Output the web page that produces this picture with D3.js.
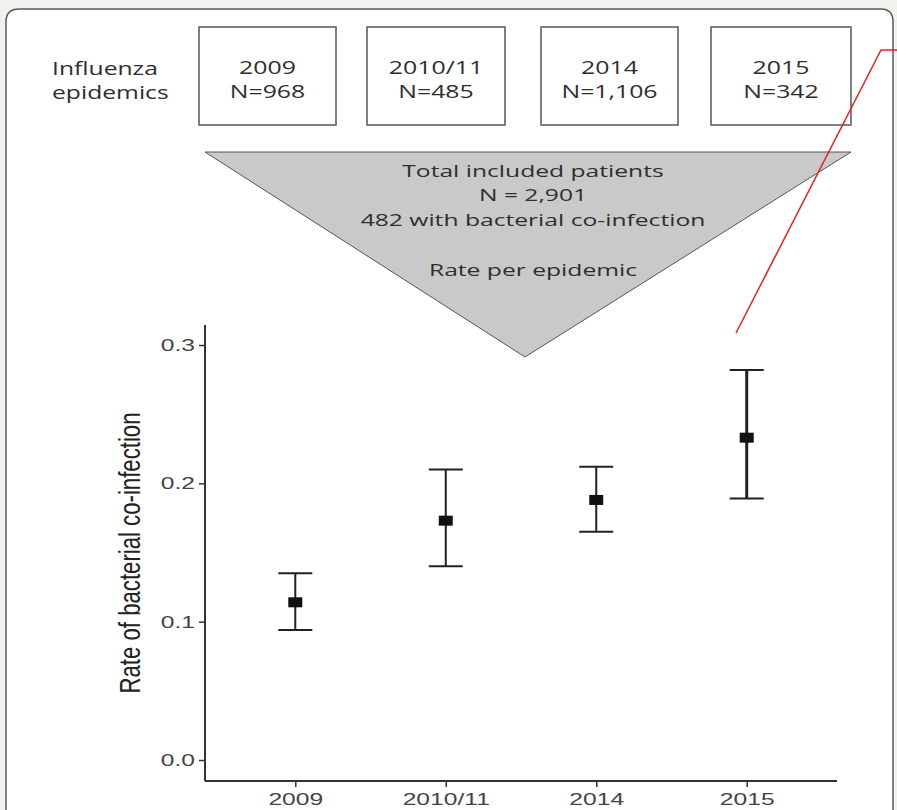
<!DOCTYPE html>
<html>
<head>
<meta charset="utf-8">
<script src="https://cdn.jsdelivr.net/npm/d3@7"></script>
<style>
  html, body { margin: 0; padding: 0; background: #f3f1ee; }
  svg { display: block; }
</style>
</head>
<body>
<div id="chart"></div>
<script>
// epidemic categories and counts
const epidemics = ["2009", "2010/11", "2014", "2015"];
const patients = ["N=968", "N=485", "N=1,106", "N=342"];

// rate of bacterial co-infection, with CI
const rate = [0.114, 0.173, 0.188, 0.233];
const lower = [0.094, 0.140, 0.165, 0.189];
const upper = [0.135, 0.210, 0.212, 0.282];

const yTicks = [0.0, 0.1, 0.2, 0.3];
const funnelLines = ["Total included patients", "N = 2,901", "482 with bacterial co-infection"];

const width = 897, height = 810;
const stretch = 1.45; // the original figure is stretched sideways

const svg = d3.select("#chart")
    .append("svg")
    .attr("width", width)
    .attr("height", height);

// white panel with rounded top
svg.append("path")
    .attr("d", "M6,820 L6,22 Q6,9 19,9 L881,9 Q893,9 893,22 L893,820")
    .attr("fill", "white")
    .attr("stroke", "#5a5a5a")
    .attr("stroke-width", 1.5);

// header boxes
const boxes = [
    { x: 199, w: 137 },
    { x: 367, w: 138 },
    { x: 541, w: 137 },
    { x: 711, w: 140 }
];
const txtFont = "'Open Sans', sans-serif";

function label(sel, tx, ty, txt, anchor, size, sx) {
    sel.append("text")
        .attr("transform", `translate(${tx},${ty}) scale(${sx},1)`)
        .attr("text-anchor", anchor)
        .style("font-family", txtFont)
        .style("font-size", size + "px")
        .attr("fill", "#2e2e2e")
        .text(txt);
}

label(svg, 52, 75, "Influenza", "start", 18, 1.37);
label(svg, 52, 99, "epidemics", "start", 18, 1.37);

epidemics.forEach((d, i) => {
    const b = boxes[i];
    svg.append("rect")
        .attr("x", b.x)
        .attr("y", 27)
        .attr("width", b.w)
        .attr("height", 98)
        .attr("fill", "white")
        .attr("stroke", "#555")
        .attr("stroke-width", 1.5);
    label(svg, b.x + b.w / 2, 73.5, d, "middle", 18, 1.38);
    label(svg, b.x + b.w / 2, 98, patients[i], "middle", 18, 1.38);
});

// chart area
const margin = { left: 205, right: 837, top: 325, bottom: 781 };

const x = d3.scalePoint()
    .domain(epidemics)
    .range([margin.left, margin.right])
    .padding(0.6);

const y = d3.scaleLinear()
    .domain([0, 0.3])
    .range([760, 345]);

// funnel triangle
svg.append("path")
    .attr("d", "M205,152 L851,152 L525,357 Z")
    .attr("fill", "#c9c9c9")
    .attr("stroke", "#555")
    .attr("stroke-width", 1);

const funnelY = [177, 201, 226];
funnelLines.forEach((d, i) => label(svg, 533, funnelY[i], d, "middle", 17, 1.45));
label(svg, 533, 276, "Rate per epidemic", "middle", 17, 1.45);

// axes
const axisFont = "'Liberation Sans', Arial, sans-serif";

const yAxis = svg.append("g")
    .attr("transform", `translate(${margin.left},0)`)
    .call(d3.axisLeft(y).tickValues(yTicks).tickFormat(d3.format(".1f")).tickSize(6).tickPadding(4));
yAxis.select(".domain").attr("d", `M0,${margin.top}V${margin.bottom}`);

const xAxis = svg.append("g")
    .attr("transform", `translate(0,${margin.bottom})`)
    .call(d3.axisBottom(x).tickSize(6).tickPadding(6));
xAxis.select(".domain").attr("d", `M${margin.left},0H${margin.right}`);

svg.selectAll(".domain").attr("stroke", "#333").attr("stroke-width", 2);
svg.selectAll(".tick line").attr("stroke", "#333").attr("stroke-width", 1.5);
svg.selectAll(".tick text")
    .attr("transform", `scale(${stretch},1)`)
    .style("font-family", axisFont)
    .style("font-size", "17px")
    .attr("fill", "#444");
yAxis.selectAll(".tick text").attr("x", -10 / stretch);

svg.append("text")
    .attr("transform", `translate(140,553) scale(${stretch},1) rotate(-90)`)
    .attr("text-anchor", "middle")
    .attr("textLength", 281)
    .attr("lengthAdjust", "spacingAndGlyphs")
    .style("font-family", axisFont)
    .style("font-size", "20px")
    .attr("fill", "#222")
    .text("Rate of bacterial co-infection");

// error bars
const bars = svg.selectAll("g.err")
    .data(epidemics)
    .enter()
    .append("g")
    .attr("class", "err")
    .attr("stroke", "#222");

bars.append("line")
    .attr("x1", d => x(d)).attr("x2", d => x(d))
    .attr("y1", (d, i) => y(lower[i])).attr("y2", (d, i) => y(upper[i]))
    .attr("stroke-width", (d, i) => i === 3 ? 3 : 2);

bars.append("line")
    .attr("x1", d => x(d) - 17).attr("x2", d => x(d) + 17)
    .attr("y1", (d, i) => y(upper[i])).attr("y2", (d, i) => y(upper[i]))
    .attr("stroke-width", 2);

bars.append("line")
    .attr("x1", d => x(d) - 17).attr("x2", d => x(d) + 17)
    .attr("y1", (d, i) => y(lower[i])).attr("y2", (d, i) => y(lower[i]))
    .attr("stroke-width", 2);

svg.selectAll("rect.pt")
    .data(epidemics)
    .enter()
    .append("rect")
    .attr("class", "pt")
    .attr("x", d => x(d) - 7)
    .attr("y", (d, i) => y(rate[i]) - 5)
    .attr("width", 14)
    .attr("height", 10)
    .attr("fill", "#111");

// red pointer line
svg.append("polyline")
    .attr("points", "897,50 881,50 736,333")
    .attr("fill", "none")
    .attr("stroke", "#e8201c")
    .attr("stroke-width", 1.5);
</script>
</body>
</html>
